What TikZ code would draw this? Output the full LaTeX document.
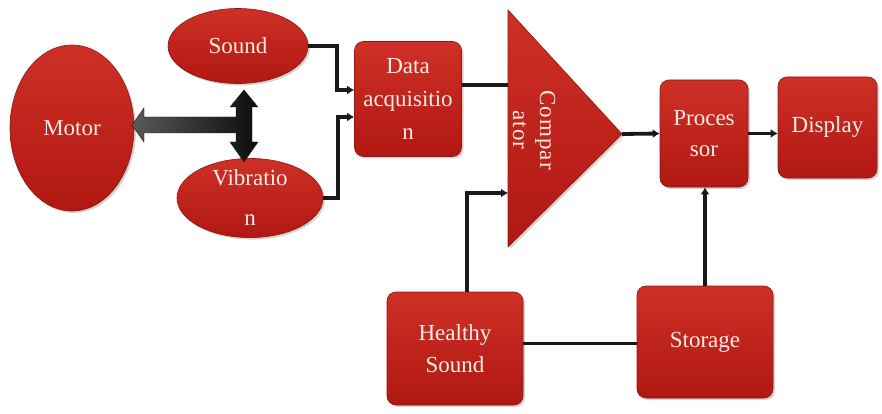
\documentclass[tikz,border=0pt]{standalone}
\usepackage{fontspec}
\setmainfont{Liberation Serif}
\usetikzlibrary{shapes.geometric,arrows.meta,calc,shadows}
\definecolor{redtop}{RGB}{206,48,38}
\definecolor{redbot}{RGB}{176,24,18}
\definecolor{rededge}{RGB}{150,20,15}
\definecolor{txt}{RGB}{250,236,230}
\tikzset{
  redfill/.style={top color=redtop, bottom color=redbot, draw=rededge, line width=0.6pt,
    drop shadow={opacity=0.35, shadow xshift=2pt, shadow yshift=-2pt}},
  lbl/.style={text=txt, font=\fontsize{23}{33}\selectfont, align=center, inner sep=0pt},
  oval/.style={ellipse, redfill, lbl},
  block/.style={rectangle, rounded corners=9pt, redfill, lbl},
  conn/.style={draw=black!90, line width=3.8pt},
  arr/.style={conn, -{Latex[length=7pt,width=9pt]}}
}
\begin{document}
\begin{tikzpicture}[x=1pt,y=-1pt]
\useasboundingbox (0,0) rectangle (882,414);
% nodes
\node[oval, minimum width=124pt, minimum height=166pt] (motor) at (72,128) {Motor};
\node[oval, minimum width=140pt, minimum height=75pt] (sound) at (238,46) {Sound};
\node[oval, minimum width=146pt, minimum height=79pt, font=\fontsize{23}{40}\selectfont] (vib) at (250,198) {Vibratio\\n};
\node[block, minimum width=107pt, minimum height=115pt] (data) at (408,99) {Data\\acquisitio\\n};
\node[block, minimum width=88pt, minimum height=107pt, font=\fontsize{23}{31}\selectfont] (proc) at (704,133.5) {Proces\\sor};
\node[block, minimum width=99pt, minimum height=101pt] (disp) at (827.5,127.5) {Display};
\node[block, minimum width=136pt, minimum height=113pt, font=\fontsize{23}{32}\selectfont] (healthy) at (455,348.5) {Healthy\\Sound};
\node[block, minimum width=136pt, minimum height=112pt] (storage) at (705,342) {Storage};
% comparator triangle
\coordinate (cA) at (508,10);
\coordinate (cB) at (508,247);
\coordinate (cT) at (622,134);
\coordinate (cIn1) at (508,85);
\coordinate (cIn2) at (508,193);
\path[redfill] (cA) -- (cT) -- (cB) -- cycle;
\node[lbl, rotate=-90, font=\fontsize{23}{27}\selectfont\addfontfeatures{LetterSpace=5}] (comptxt) at (534,130) {Compar\\ator};
% thick double arrows
\path[left color=black!65, right color=black!95, draw=black!90, line width=0.4pt]
  (132,125) -- (144,108) -- (144,117) -- (236,117) -- (236,107) -- (230,107)
  -- (244,90) -- (258,107) -- (252,107) -- (252,142) -- (258,142) -- (244,162)
  -- (230,142) -- (236,142) -- (236,133) -- (144,133) -- (144,142) -- cycle;
% connectors
\draw[arr] (sound.east) -- ++(29,0) |- ($(data.west)+(0,-9)$);
\draw[arr] (vib.east) -- ++(15,0) |- ($(data.west)+(0,18)$);
\draw[conn] ($(data.east)+(0,-14)$) -- (cIn1);
\draw[arr] (cT) -- (proc.west);
\draw[arr] (proc.east) -- (proc.east -| disp.west);
\draw[arr] (storage.north) -- (storage.north |- proc.south);
\draw[conn] ($(healthy.east)+(0,-5)$) -- ($(healthy.east -| storage.west)+(0,-5)$);
\draw[arr] ($(healthy.north)+(12,0)$) |- (cIn2);
\end{tikzpicture}
\end{document}
